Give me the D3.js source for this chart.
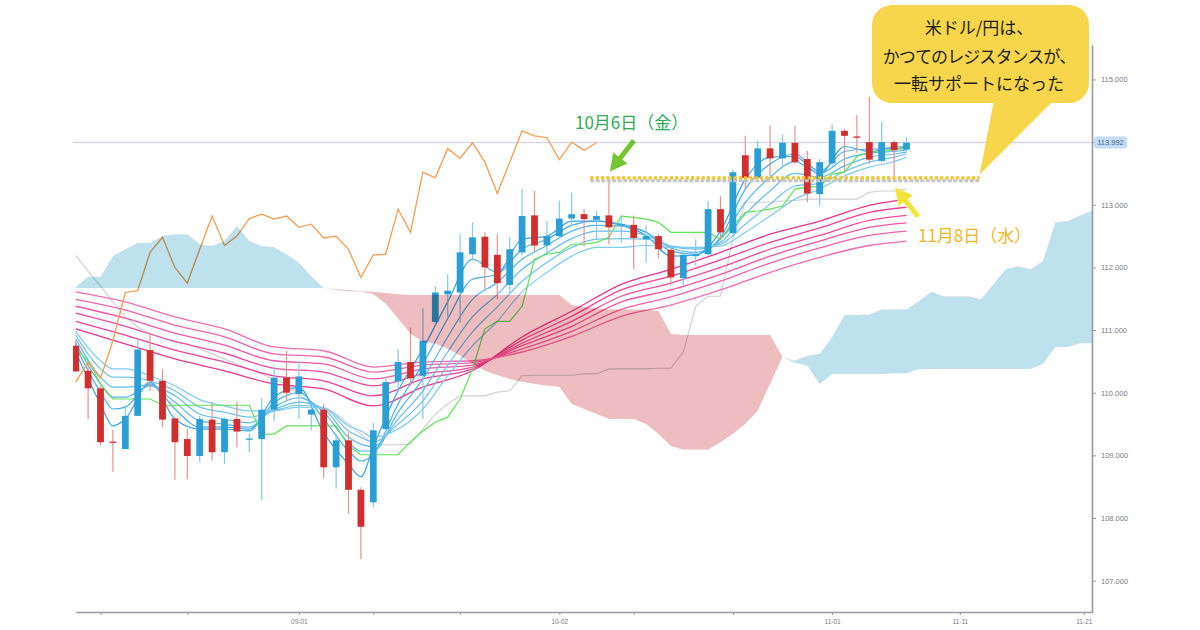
<!DOCTYPE html>
<html>
<head>
<meta charset="utf-8">
<title>USD/JPY</title>
<script src="https://cdn.jsdelivr.net/npm/d3@7"></script>
<style>
  html, body { margin: 0; padding: 0; background: #fff; }
  svg { display: block; }
  .ax text { font-family: "Liberation Sans", Arial, sans-serif; fill: #7a7a86; }
  .ax path, .ax line { stroke: #9a9aa4; }
  .jp { font-family: "Noto Sans CJK JP", sans-serif; }
</style>
</head>
<body>
<svg id="chart" width="1200" height="630"></svg>
<script>
// USD/JPY daily, 2017-08-08 .. 2017-11-09, one bar per weekday (index 0..67)
var open = [110.75,110.35,110.07,109.22,109.10,109.63,110.68,110.19,109.59,109.26,
  108.99,109.57,109.05,109.58,109.25,109.26,109.73,110.24,109.98,109.65,
  109.73,108.81,109.24,108.45,108.25,109.42,110.18,110.49,110.27,111.13,
  111.57,111.60,112.21,112.49,112.20,111.72,112.24,112.83,112.35,112.50,
  112.78,112.85,112.76,112.83,112.67,112.68,112.45,112.50,112.28,111.83,
  112.18,112.21,112.93,112.55,113.79,113.43,113.90,113.74,113.99,113.73,
  113.17,113.66,114.18,114.09,114.00,113.70,114.00,113.88]
var high = [110.83,110.49,110.11,109.41,109.80,110.85,110.94,110.38,109.60,109.42,
  109.63,109.85,109.61,109.85,109.35,109.91,110.43,110.67,110.50,109.77,
  109.82,109.34,109.37,108.49,109.52,110.26,110.70,111.04,111.35,111.70,
  111.89,112.53,112.72,112.56,112.53,112.48,113.25,113.22,112.74,113.07,
  113.19,112.93,112.90,113.43,112.83,112.83,112.67,112.53,112.32,112.26,
  112.45,113.06,113.14,113.57,114.10,114.02,114.26,114.12,114.26,113.86,
  113.73,114.28,114.21,114.43,114.72,114.32,114.03,114.08]
var low = [110.33,109.58,109.16,108.74,109.10,109.63,110.03,109.45,108.61,108.62,
  108.89,108.92,108.86,109.13,109.05,108.28,109.55,109.87,109.58,109.40,
  108.64,108.47,108.07,107.34,108.17,109.37,110.03,110.11,109.58,111.07,
  111.20,111.12,112.13,111.65,111.49,111.60,112.20,112.26,112.21,112.48,
  112.66,112.34,112.45,112.37,112.39,111.97,112.08,112.14,111.71,111.71,
  112.03,112.19,112.45,112.50,113.26,113.41,113.46,113.59,113.65,113.04,
  112.98,113.62,113.54,113.83,113.65,113.67,113.41,113.85]
var close = [110.34,110.07,109.21,109.20,109.63,110.69,110.19,109.57,109.21,108.99,
  109.58,109.05,109.58,109.38,109.27,109.73,110.24,110.00,110.26,109.73,
  108.81,109.24,108.45,107.86,109.40,110.17,110.49,110.23,110.83,111.60,
  111.63,112.24,112.48,112.00,111.75,112.29,112.82,112.35,112.50,112.78,
  112.85,112.77,112.82,112.64,112.69,112.47,112.50,112.29,111.84,112.20,
  112.21,112.93,112.56,113.52,113.43,113.90,113.74,113.99,113.68,113.18,
  113.68,114.18,114.10,114.07,113.72,114.00,113.87,113.99]

// ichimoku lines
var tenkan = [110.70,110.51,110.14,109.90,109.90,109.90,109.90,109.80,109.80,109.80,
  109.80,109.80,109.80,109.80,109.80,109.34,109.34,109.47,109.47,109.47,
  109.47,109.47,109.15,109.01,109.01,109.01,109.01,109.22,109.39,109.53,
  109.61,109.90,110.38,111.02,111.14,111.14,111.38,112.13,112.21,112.24,
  112.37,112.37,112.40,112.48,112.82,112.80,112.77,112.72,112.56,112.56,
  112.56,112.56,112.45,112.66,112.88,112.90,112.93,112.98,113.25,113.28,
  113.29,113.49,113.52,113.77,113.84,113.85,113.88,113.93]
var kijun = [112.19,111.94,111.70,111.45,111.21,111.05,110.94,110.86,110.81,110.78,
  110.70,110.62,110.54,110.46,110.38,110.30,110.22,110.14,109.98,109.82,
  109.76,109.66,109.50,109.34,109.17,109.17,109.17,109.18,109.42,109.66,
  109.82,109.95,109.95,109.95,110.01,110.03,110.27,110.28,110.28,110.28,
  110.28,110.30,110.30,110.38,110.38,110.38,110.38,110.39,110.39,110.65,
  111.38,111.54,111.54,112.45,113.04,113.04,113.04,113.06,113.07,113.09,
  113.09,113.09,113.09,113.09,113.20,113.22,113.22,113.25]
// leading spans, index 0..82 (runs past the last bar)
var senkouA = [111.69,111.85,111.85,112.18,112.29,112.39,112.39,112.50,112.53,112.53,
  112.37,112.34,112.42,112.66,112.42,112.34,112.32,112.21,112.08,111.86,
  111.67,111.64,111.62,111.61,111.57,111.42,111.18,110.94,110.81,110.78,
  110.70,110.59,110.46,110.35,110.28,110.22,110.17,110.14,110.11,110.09,
  109.82,109.74,109.66,109.58,109.58,109.58,109.50,109.34,109.15,109.09,
  109.09,109.09,109.21,109.34,109.50,109.71,110.14,110.57,110.51,110.59,
  110.62,110.89,111.24,111.24,111.25,111.33,111.33,111.33,111.46,111.61,
  111.54,111.54,111.54,111.49,111.73,111.97,112.02,111.97,112.10,112.72,
  112.74,112.83,112.91]
var senkouB = [111.67,111.67,111.67,111.67,111.67,111.67,111.67,111.67,111.67,111.67,
  111.67,111.67,111.67,111.67,111.67,111.67,111.67,111.67,111.67,111.67,
  111.67,111.65,111.64,111.62,111.61,111.59,111.57,111.56,111.56,111.56,
  111.56,111.56,111.56,111.56,111.56,111.56,111.56,111.56,111.56,111.56,
  111.40,111.37,111.35,111.33,111.33,111.33,111.33,111.30,110.94,110.92,
  110.92,110.92,110.92,110.92,110.92,110.92,110.92,110.57,110.48,110.43,
  110.14,110.30,110.30,110.30,110.30,110.30,110.31,110.31,110.38,110.38,
  110.38,110.38,110.38,110.38,110.38,110.38,110.38,110.38,110.46,110.73,
  110.73,110.79,110.79]

// GMMA short group (blue), read every other bar
var shortIdx = [0,2,3,4,6,8,10,12,14,16,18,20,22,23,24,26,28,30,32,34,36,38,40,42,44,46,48,50,52,54,56,58,60,62,64,66,67]
var ema3 = [110.65,109.82,109.47,109.58,110.17,109.58,109.42,109.42,109.39,109.93,110.08,109.36,108.86,108.66,109.14,110.03,110.70,111.45,112.13,111.92,112.45,112.50,112.74,112.74,112.67,112.51,112.18,112.20,112.58,113.41,113.76,113.77,113.49,113.93,113.85,113.92,113.93]
var ema5 = [110.73,110.01,109.74,109.77,110.14,109.74,109.45,109.45,109.42,109.84,110.00,109.58,109.07,108.91,109.02,109.82,110.46,111.18,111.81,111.89,112.29,112.45,112.67,112.74,112.69,112.56,112.26,112.21,112.48,113.25,113.65,113.81,113.53,113.85,113.89,113.89,113.90]
var ema8 = [110.79,110.14,109.93,109.93,110.11,109.85,109.55,109.50,109.45,109.77,109.92,109.69,109.20,109.07,109.07,109.69,110.22,110.89,111.49,111.76,112.13,112.35,112.58,112.67,112.66,112.56,112.31,112.24,112.45,113.04,113.44,113.69,113.50,113.73,113.82,113.85,113.87]
var ema10 = [110.86,110.25,110.09,110.09,110.12,109.95,109.66,109.58,109.52,109.73,109.85,109.74,109.29,109.18,109.14,109.58,110.03,110.65,111.21,111.57,111.97,112.23,112.46,112.58,112.58,112.51,112.34,112.29,112.40,112.85,113.22,113.50,113.44,113.62,113.76,113.81,113.84]
var ema12 = [110.92,110.38,110.25,110.25,110.19,110.03,109.77,109.69,109.61,109.71,109.80,109.76,109.39,109.29,109.21,109.50,109.87,110.44,110.97,111.37,111.78,112.08,112.32,112.45,112.46,112.45,112.34,112.31,112.37,112.69,113.01,113.30,113.34,113.53,113.68,113.76,113.81]
var ema15 = [110.98,110.51,110.38,110.38,110.27,110.11,109.89,109.79,109.71,109.71,109.77,109.76,109.47,109.39,109.29,109.42,109.74,110.27,110.75,111.14,111.61,111.92,112.18,112.32,112.32,112.35,112.32,112.32,112.34,112.56,112.82,113.09,113.25,113.46,113.60,113.69,113.76]

// GMMA long group (pink), read every fourth bar
var longIdx = [0,4,8,12,16,20,24,28,32,36,40,44,48,52,56,60,64,67]
var ema30 = [111.02,110.78,110.54,110.35,110.14,110.06,109.79,110.09,110.35,110.89,111.30,111.73,111.97,112.24,112.53,112.74,112.99,113.09]
var ema35 = [111.14,110.92,110.68,110.49,110.27,110.19,109.95,110.22,110.38,110.84,111.22,111.64,111.86,112.12,112.40,112.63,112.88,112.96]
var ema40 = [111.27,111.06,110.82,110.63,110.39,110.33,110.11,110.30,110.41,110.79,111.14,111.54,111.75,112.00,112.29,112.51,112.75,112.83]
var ema45 = [111.38,111.19,110.95,110.76,110.51,110.46,110.22,110.38,110.44,110.75,111.06,111.45,111.64,111.89,112.18,112.42,112.64,112.71]
var ema50 = [111.49,111.32,111.08,110.89,110.62,110.57,110.33,110.44,110.48,110.70,110.98,111.33,111.53,111.78,112.07,112.31,112.51,112.58]
var ema60 = [111.61,111.45,111.21,111.02,110.73,110.67,110.41,110.49,110.51,110.65,110.90,111.22,111.40,111.64,111.92,112.16,112.35,112.42]

var lastPrice = 113.992
var resistance = 113.42
var yTicks = [107, 108, 109, 110, 111, 112, 113, 114, 115]
var yTickLabels = [107, 108, 109, 110, 111, 112, 113, 115]
var xTickPos = [2, 9, 18, 24, 31, 39, 45, 53, 61, 71.3, 81.3]
var xTickLabels = ['', '', '09-01', '', '', '10-02', '', '', '11-01', '11-11', '11-21']

var svg = d3.select('#chart')

var x = d3.scaleLinear().domain([0, 82]).range([75.7, 1092.5])
var y = d3.scaleLinear().domain([106.5, 115.55]).range([612, 45])

var defs = svg.append('defs')
defs.append('clipPath').attr('id', 'plot')
  .append('rect').attr('x', 73).attr('y', 45).attr('width', 1019.5).attr('height', 567)

var plot = svg.append('g').attr('clip-path', 'url(#plot)')

function series (idx, vals, offset) {
  return vals.map(function (v, k) { return {i: idx ? idx[k] : k + (offset || 0), v: v} })
}

var straight = d3.line().x(function (d) { return x(d.i) }).y(function (d) { return y(d.v) })
var smooth = d3.line().x(function (d) { return x(d.i) }).y(function (d) { return y(d.v) })
  .curve(d3.curveMonotoneX)

// current price line
plot.append('line')
  .attr('x1', 73).attr('x2', 1092)
  .attr('y1', y(lastPrice)).attr('y2', y(lastPrice))
  .attr('stroke', '#c9c9f0').attr('stroke-width', 1)

// kijun
plot.append('path').datum(series(null, kijun))
  .attr('d', straight).attr('fill', 'none')
  .attr('stroke', '#cfcfcf').attr('stroke-width', 1.1)

// long GMMA
var pinkCols = ['#e8358f', '#eb4098', '#ed4ba0', '#ef56a7', '#f061ae', '#f16cb4']
;[ema30, ema35, ema40, ema45, ema50, ema60].forEach(function (arr, k) {
  plot.append('path').datum(series(longIdx, arr))
    .attr('d', smooth).attr('fill', 'none')
    .attr('stroke', pinkCols[k]).attr('stroke-width', 1.3)
})

// short GMMA
var blueCols = ['#3aa3e3', '#46ace7', '#54b4eb', '#62bced', '#70c3ef', '#7fcaf1']
;[ema3, ema5, ema8, ema10, ema12, ema15].forEach(function (arr, k) {
  plot.append('path').datum(series(shortIdx, arr))
    .attr('d', smooth).attr('fill', 'none')
    .attr('stroke', blueCols[k]).attr('stroke-width', 1.2)
})

// tenkan
plot.append('path').datum(series(null, tenkan))
  .attr('d', straight).attr('fill', 'none')
  .attr('stroke', '#5fe258').attr('stroke-width', 1.2)

// chikou: closes plotted 25 bars back
plot.append('path').datum(series(null, close.slice(25)))
  .attr('d', straight).attr('fill', 'none')
  .attr('stroke', '#f39d55').attr('stroke-width', 1.3)

// candles
var bars = close.map(function (c, i) { return {i: i, o: open[i], h: high[i], l: low[i], c: c} })
var cg = plot.append('g').selectAll('g').data(bars).join('g')
cg.append('line')
  .attr('x1', function (d) { return x(d.i) }).attr('x2', function (d) { return x(d.i) })
  .attr('y1', function (d) { return y(d.h) }).attr('y2', function (d) { return y(d.l) })
  .attr('stroke', function (d) { return d.c >= d.o ? '#86c8e8' : '#e59393' })
  .attr('stroke-width', 1.2)
cg.append('rect')
  .attr('x', function (d) { return x(d.i) - 3.4 }).attr('width', 6.8)
  .attr('y', function (d) { return y(Math.max(d.o, d.c)) })
  .attr('height', function (d) { return Math.max(1.3, Math.abs(y(d.o) - y(d.c))) })
  .attr('fill', function (d) { return d.c >= d.o ? '#2a9fd5' : '#d12e2e' })

// cloud, blue where span A is above span B, pink otherwise
var cloud = senkouA.map(function (a, i) { return {i: i, a: a, b: senkouB[i]} })
var band = d3.area().x(function (d) { return x(d.i) })
  .y0(function (d) { return y(d.b) }).y1(function (d) { return y(d.a) })
defs.append('clipPath').attr('id', 'belowA').append('path').datum(cloud)
  .attr('d', d3.area().x(function (d) { return x(d.i) }).y0(612).y1(function (d) { return y(d.a) }))
defs.append('clipPath').attr('id', 'aboveA').append('path').datum(cloud)
  .attr('d', d3.area().x(function (d) { return x(d.i) }).y0(45).y1(function (d) { return y(d.a) }))
var kumo = plot.append('g').style('mix-blend-mode', 'multiply')
kumo.append('path').datum(cloud).attr('d', band)
  .attr('clip-path', 'url(#belowA)').attr('fill', '#bde2ee')
kumo.append('path').datum(cloud).attr('d', band)
  .attr('clip-path', 'url(#aboveA)').attr('fill', '#edbdc0')

// resistance turned support
var ry = y(resistance)
svg.append('line')
  .attr('x1', x(41.5)).attr('x2', x(72.9)).attr('y1', ry + 2.2).attr('y2', ry + 2.2)
  .attr('stroke', '#c4c4c4').attr('stroke-width', 3).attr('stroke-dasharray', '4 1.5')
svg.append('line')
  .attr('x1', x(41.5)).attr('x2', x(72.9)).attr('y1', ry - 0.6).attr('y2', ry - 0.6)
  .attr('stroke', '#f6c22a').attr('stroke-width', 3.4).attr('stroke-dasharray', '3.2 2.1')

function arrowPath (x0, y0, x1, y1, shaftW, headL, headW) {
  var dx = x1 - x0, dy = y1 - y0, len = Math.sqrt(dx * dx + dy * dy)
  var ux = dx / len, uy = dy / len, px = -uy, py = ux
  var bx = x1 - ux * headL, by = y1 - uy * headL
  var pts = [
    [x0 + px * shaftW / 2, y0 + py * shaftW / 2],
    [bx + px * shaftW / 2, by + py * shaftW / 2],
    [bx + px * headW / 2, by + py * headW / 2],
    [x1, y1],
    [bx - px * headW / 2, by - py * headW / 2],
    [bx - px * shaftW / 2, by - py * shaftW / 2],
    [x0 - px * shaftW / 2, y0 - py * shaftW / 2]]
  return 'M' + pts.join('L') + 'Z'
}

// 10/6 marker
var gx = x(43) + 1, gy = ry - 7
svg.append('path').attr('d', arrowPath(gx + 24, gy - 31, gx, gy, 5, 17, 18)).attr('fill', '#74c434')
svg.append('text').attr('class', 'jp')
  .attr('x', 575).attr('y', 129)
  .attr('font-size', 17).attr('fill', '#2faa55')
  .text('10月6日（金）')

// 11/8 marker
var yx = x(66) + 1, yy = ry + 9
svg.append('path').attr('d', arrowPath(yx + 23, yy + 29, yx, yy, 5, 17, 18)).attr('fill', '#f3e43a')
svg.append('text').attr('class', 'jp')
  .attr('x', 918).attr('y', 242)
  .attr('font-size', 17).attr('fill', '#f5b526')
  .text('11月8日（水）')

// speech bubble
var bub = svg.append('g')
bub.append('path')
  .attr('d', 'M994,100 L1054,100 L' + x(72.9) + ',' + (ry - 4) + ' Z')
  .attr('fill', '#f7d64b')
bub.append('rect')
  .attr('x', 872).attr('y', 5).attr('width', 217).attr('height', 98).attr('rx', 20)
  .attr('fill', '#f7d64b')
var lines = ['米ドル/円は、', 'かつてのレジスタンスが、', '一転サポートになった']
bub.selectAll('text.b').data(lines).join('text')
  .attr('class', 'jp b')
  .attr('x', 979).attr('y', function (d, i) { return [33.5, 62.5, 90][i] })
  .attr('text-anchor', 'middle').attr('font-size', 17)
  .attr('letter-spacing', function (d, i) { return i === 1 ? -0.9 : 0 })
  .attr('fill', '#1e1e1e')
  .text(function (d) { return d })

// axes
var xAxis = svg.append('g').attr('class', 'ax').attr('transform', 'translate(0,612)')
  .call(d3.axisBottom(x).tickValues(xTickPos)
    .tickFormat(function (d, i) { return xTickLabels[i] })
    .tickSize(3).tickSizeOuter(0).tickPadding(4))
xAxis.selectAll('text').style('font-size', '6.5px')
xAxis.select('.domain').attr('stroke-width', 1.4)

var yAxis = svg.append('g').attr('class', 'ax').attr('transform', 'translate(1092,0)')
  .call(d3.axisRight(y).tickValues(yTicks)
    .tickFormat(function (d) { return yTickLabels.indexOf(d) >= 0 ? d3.format('.3f')(d) : '' })
    .tickSize(4).tickSizeOuter(0).tickPadding(5))
yAxis.selectAll('text').style('font-size', '7.5px')
yAxis.select('.domain').attr('stroke-width', 1.6)

// last price badge
var badge = svg.append('g').attr('transform', 'translate(1094,' + y(lastPrice) + ')')
badge.append('rect').attr('x', 0).attr('y', -6).attr('width', 33).attr('height', 12).attr('rx', 3)
  .attr('fill', '#c4dcf6')
badge.append('text').attr('x', 16.5).attr('dy', '0.35em').attr('text-anchor', 'middle')
  .style('font-family', '"Liberation Sans", Arial, sans-serif').style('font-size', '7.5px')
  .attr('fill', '#4a6590')
  .text(d3.format('.3f')(lastPrice))
</script>
</body>
</html>
